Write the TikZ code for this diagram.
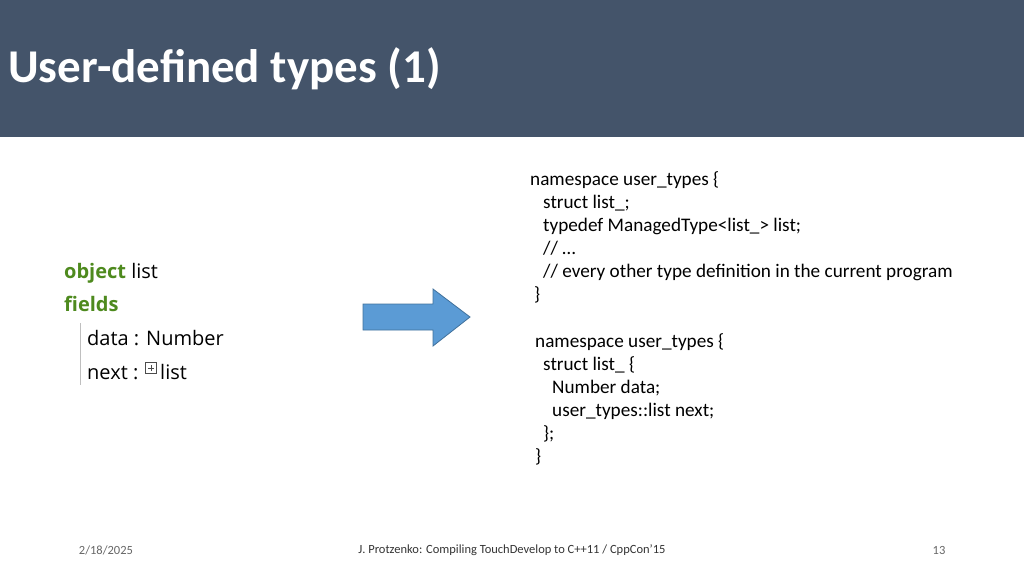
\documentclass[tikz,border=0pt]{standalone}
\usepackage{fontspec}
\setmainfont{Carlito}
\newfontfamily\tdfont{Open Sans}
\definecolor{barblue}{HTML}{44546A}
\definecolor{tdgreen}{HTML}{4E8A1E}
\definecolor{arrowblue}{HTML}{5B9BD5}
\definecolor{arrowedge}{HTML}{41719C}
\tikzset{
  code/.style={anchor=north west,inner sep=0pt,font=\fontsize{19.2}{23}\selectfont,align=left},
  field/.style={anchor=west,inner sep=0pt,font=\tdfont\fontsize{20}{24}\selectfont},
  foot/.style={inner sep=0pt,font=\fontsize{12.5}{14}\selectfont,text=black!60}
}
\begin{document}
\begin{tikzpicture}[x=1pt,y=-1pt]
    \useasboundingbox (0,0) rectangle (1024,576);
    \fill[barblue] (0,0) rectangle (1024,137);
    \node (title) at (8,69) [anchor=west,inner sep=0pt,text=white,font=\bfseries\fontsize{47}{54}\selectfont] {User-defined types (1)};

    % TouchDevelop side
    \node (obj) at (64,273) [field] {\textcolor{tdgreen}{\bfseries object} list};
    \node (flds) at (64,304) [field,text=tdgreen] {\bfseries fields};
    \draw [black!25,line width=1] (80,323) -- (80,385);
    \node (data) at (87,338) [field] {data : Number};
    \node (next) at (87,371) [field] {next : \tikz[baseline=-6pt,x=1pt,y=1pt]{\draw[black!70,line width=0.6] (0,0) rectangle (11,11); \draw[black!70,line width=0.6] (2.5,5.5) -- (8.5,5.5) (5.5,2.5) -- (5.5,8.5);}\,list};

    % arrow
    \draw [arrowedge,fill=arrowblue,line width=0.8] (363,304) -- (433,304) -- (433,289) -- (470,317)
        -- (433,346) -- (433,330) -- (363,330) -- cycle;

    % C++ side
    \node (ns1) at (530,171) [code] {namespace user\_types \{\\
\hspace{13pt}struct list\_;\\
\hspace{13pt}typedef ManagedType<list\_> list;\\
\hspace{13pt}// …\\
\hspace{13pt}// every other type definition in the current program\\
\hspace{4pt}\}};
    \node (ns2) at (535,333) [code] {namespace user\_types \{\\
\hspace{8pt}struct list\_ \{\\
\hspace{17pt}Number data;\\
\hspace{17pt}user\_types::list next;\\
\hspace{8pt}\};\\
\}};

    % footer
    \node (date) at (106,550) [foot] {2/18/2025};
    \node (src) at (512,550) [foot,text=black!80] {J. Protzenko: Compiling TouchDevelop to C++11 / CppCon’15};
    \node (pg) at (939,550) [foot] {13};
\end{tikzpicture}
\end{document}
